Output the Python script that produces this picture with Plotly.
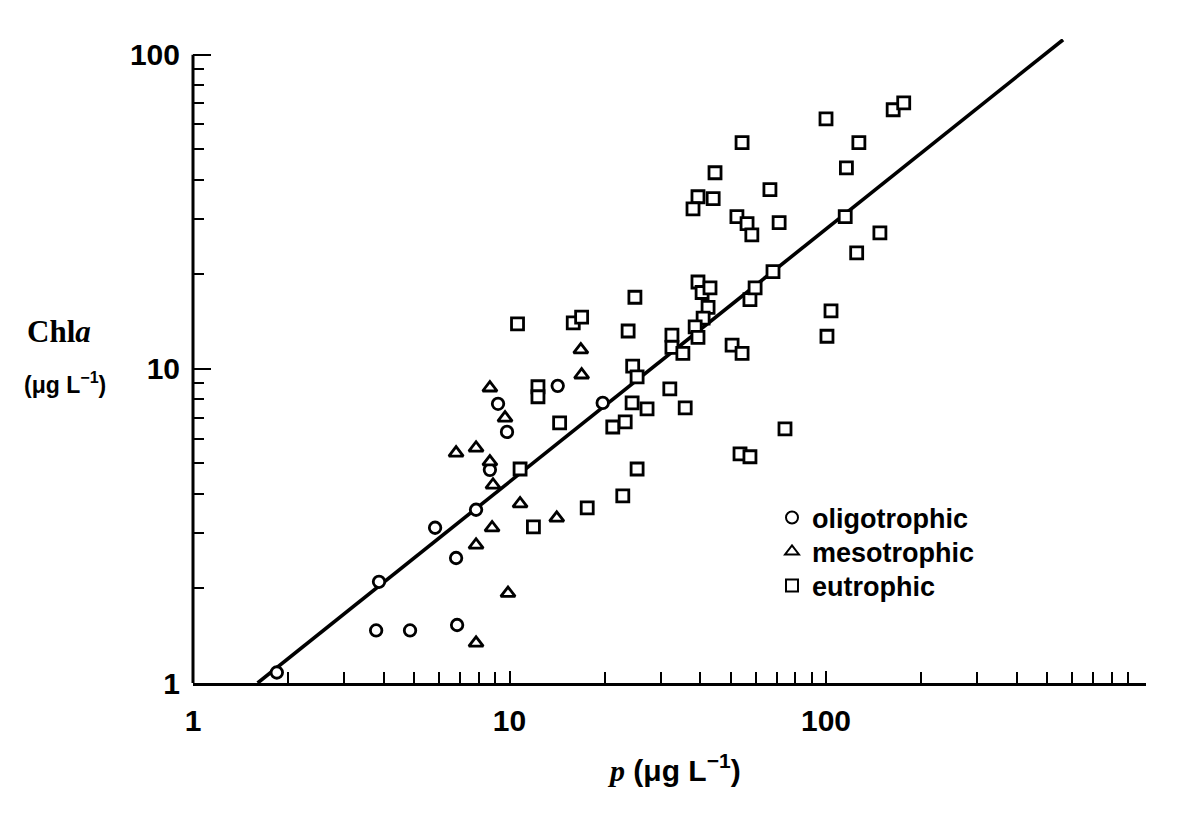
import plotly.graph_objects as go

# Total phosphorus p (µg/L) and chlorophyll a (µg/L) for each lake class
oligo_p = [1.84, 3.79, 3.87, 4.85, 5.82, 6.78, 6.83, 7.84, 8.67, 9.20, 9.82, 14.2, 19.7]
oligo_chl = [1.08, 1.47, 2.10, 1.47, 3.12, 2.50, 1.53, 3.56, 4.77, 7.74, 6.30, 8.83, 7.79]

meso_p = [6.78, 7.84, 8.67, 9.68, 8.67, 8.87, 7.84, 8.81, 9.89, 7.84, 10.8, 14.1, 16.8, 16.9]
meso_chl = [5.40, 5.60, 8.70, 6.98, 5.06, 4.27, 2.75, 3.12, 1.93, 1.34, 3.72, 3.35, 11.5, 9.57]

eutro_p = [10.6, 15.9, 16.9, 12.3, 12.3, 14.4, 10.8, 11.9, 17.6,
           24.9, 23.7, 24.5, 25.3, 24.4, 27.2, 21.2, 23.2, 25.3, 22.8,
           32.1, 35.9, 32.6, 32.6, 35.3,
           39.4, 40.6, 43.0, 42.4, 40.9, 38.6, 39.4,
           50.5, 54.3, 57.5, 59.7, 68.0, 53.5, 57.5,
           54.3, 44.6, 39.4, 44.0, 38.0, 52.3, 56.3, 58.3, 66.5, 71.1,
           100.0, 127.0, 116.0, 115.0, 148.0, 125.0, 163.0, 176.0,
           103.7, 100.7, 74.2]
eutro_chl = [13.9, 14.0, 14.6, 8.77, 8.15, 6.73, 4.80, 3.14, 3.61,
             16.9, 13.2, 10.2, 9.43, 7.79, 7.46, 6.53, 6.78, 4.80, 3.94,
             8.63, 7.51, 12.8, 11.7, 11.2,
             18.9, 17.5, 18.1, 15.7, 14.5, 13.6, 12.6,
             11.9, 11.2, 16.6, 18.1, 20.4, 5.36, 5.25,
             52.5, 42.1, 35.3, 34.8, 32.3, 30.5, 29.0, 26.7, 37.2, 29.2,
             62.5, 52.5, 43.6, 30.5, 27.1, 23.4, 66.8, 70.3,
             15.3, 12.7, 6.44]

# Regression line end points
fit_p = [1.6, 561.0]
fit_chl = [1.0, 111.6]

# Axis ticks
major_vals = [1, 10, 100]
major_text = ["1", "10", "100"]
x_minor = [2, 3, 4, 5, 6, 7, 8, 9, 20, 30, 40, 50, 60, 70, 80, 90,
           200, 300, 400, 500, 600, 700, 800, 900]
y_minor = [2, 3, 4, 5, 6, 7, 8, 9, 20, 30, 40, 50, 60, 70, 80, 90]

SANS = "Liberation Sans, Arial, sans-serif"
SERIF = "Liberation Serif, Times New Roman, serif"

W, H = 1186, 817
L, R, T, B = 193, 40, 39.3, 134
pw, ph = W - L - R, H - T - B


def px_x(x):
    return (x - L) / pw


def px_y(y):
    return (H - B - y) / ph


fig = go.Figure()

fig.add_trace(go.Scatter(
    x=fit_p, y=fit_chl, mode="lines",
    line=dict(color="black", width=3.6),
    showlegend=False, hoverinfo="skip",
))

marker_line = dict(color="black", width=2.8)
fig.add_trace(go.Scatter(
    x=oligo_p, y=oligo_chl, mode="markers", name="oligotrophic", legend="legend",
    marker=dict(symbol="circle", size=11.5, color="white", line=marker_line),
))
fig.add_trace(go.Scatter(
    x=meso_p, y=meso_chl, mode="markers", name="mesotrophic", legend="legend2",
    marker=dict(symbol="triangle-up", size=12.5, color="white", line=marker_line),
))
fig.add_trace(go.Scatter(
    x=eutro_p, y=eutro_chl, mode="markers", name="eutrophic", legend="legend3",
    marker=dict(symbol="square", size=12, color="white", line=marker_line),
))

# Left axis spine from 1 to 100 only
fig.add_shape(type="line", xref="paper", yref="y", x0=0, x1=0, y0=1, y1=100,
              line=dict(color="black", width=3))

# Axis titles
fig.add_annotation(
    xref="paper", yref="paper", x=px_x(674), y=px_y(768),
    text=('<span style="font-family:Liberation Serif"><i>p</i></span>'
          ' (μg L<sup>−1</sup>)'),
    showarrow=False, xanchor="center", yanchor="middle",
    font=dict(family=SANS, size=30, color="black", weight="bold"),
)
fig.add_annotation(
    xref="paper", yref="paper", x=px_x(59), y=px_y(332),
    xanchor="center", yanchor="middle",
    text="Chl<i>a</i>", showarrow=False,
    font=dict(family=SERIF, size=31, color="black", weight="bold"),
)
fig.add_annotation(
    xref="paper", yref="paper", x=px_x(65), y=px_y(383),
    xanchor="center", yanchor="middle",
    text="(μg L<sup>−1</sup>)", showarrow=False,
    font=dict(family=SANS, size=23, color="black", weight="bold"),
)

legend_font = dict(family=SANS, size=27, color="black", weight="bold")


def legend_box(y_center):
    return dict(
        x=px_x(772), y=px_y(y_center), xanchor="left", yanchor="middle",
        font=legend_font, bgcolor="rgba(0,0,0,0)", itemsizing="constant",
    )


fig.update_layout(
    width=W, height=H,
    margin=dict(l=L, r=R, t=T, b=B),
    paper_bgcolor="white", plot_bgcolor="white",
    showlegend=True,
    legend=legend_box(518),
    legend2=legend_box(552),
    legend3=legend_box(586),
    xaxis=dict(
        type="log", range=[0, 3.011],
        showgrid=False, zeroline=False,
        showline=True, linecolor="black", linewidth=3,
        tickmode="array", tickvals=major_vals, ticktext=major_text,
        ticks="inside", ticklen=12, tickwidth=2.2, tickcolor="black",
        ticklabelstandoff=9,
        tickfont=dict(family=SANS, size=30, color="black", weight="bold"),
        minor=dict(tickmode="array", tickvals=x_minor, ticks="inside",
                   ticklen=11, tickwidth=2.2, tickcolor="black", showgrid=False),
    ),
    yaxis=dict(
        type="log", range=[0, 2.05],
        showgrid=False, zeroline=False, showline=False,
        tickmode="array", tickvals=major_vals, ticktext=major_text,
        ticks="inside", ticklen=18, tickwidth=2.4, tickcolor="black",
        ticklabelstandoff=12,
        tickfont=dict(family=SANS, size=30, color="black", weight="bold"),
        minor=dict(tickmode="array", tickvals=y_minor, ticks="inside",
                   ticklen=11, tickwidth=2.2, tickcolor="black", showgrid=False),
    ),
)

fig.write_html("out.html")
